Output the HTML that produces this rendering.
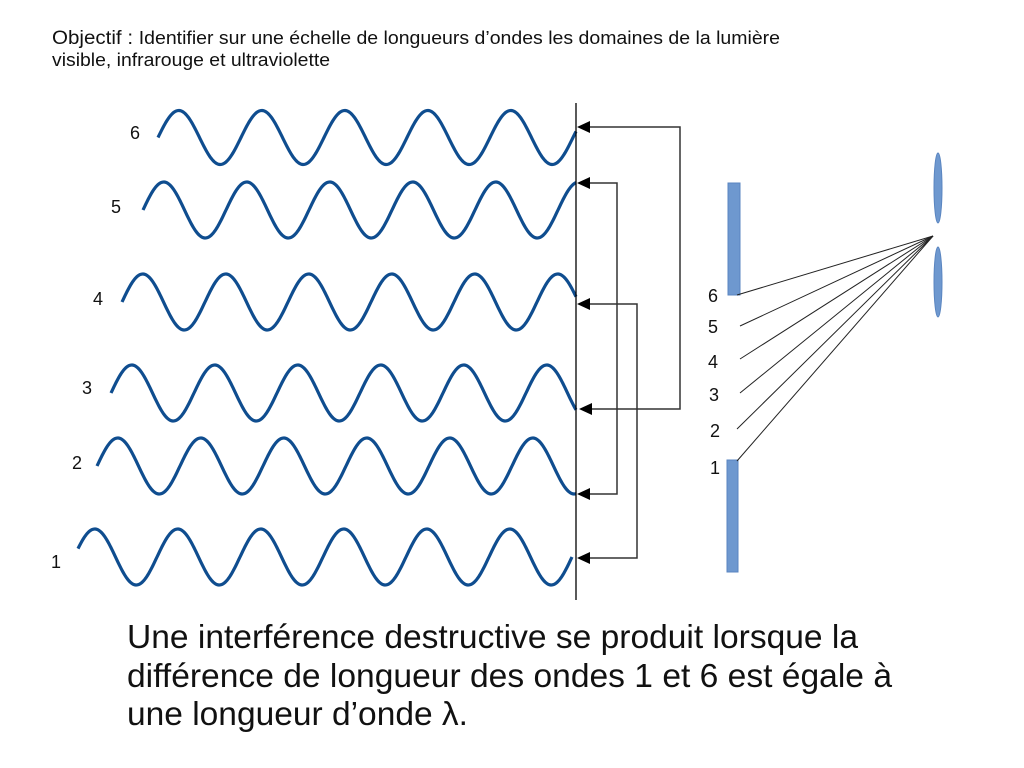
<!DOCTYPE html>
<html><head><meta charset="utf-8"><style>
html,body{margin:0;padding:0;background:#fff;}
svg{display:block;}
text{font-family:"Liberation Sans",sans-serif;fill:#111;}
</style></head><body>
<svg id="s" width="1024" height="768" viewBox="0 0 1024 768" xmlns="http://www.w3.org/2000/svg">
<text x="52" y="44" font-size="19.5" textLength="728" lengthAdjust="spacingAndGlyphs">Objectif : <tspan font-size="18.5">Identifier sur une échelle de longueurs d’ondes les domaines de la lumière</tspan></text>
<text x="52" y="66" font-size="18.5" textLength="278" lengthAdjust="spacingAndGlyphs">visible, infrarouge et ultraviolette</text>
<g id="waves" fill="none" stroke="#0f4d8f" stroke-width="3.2"></g>
<g font-size="18">
<text x="130" y="139">6</text><text x="111" y="213">5</text><text x="93" y="305">4</text>
<text x="82" y="394">3</text><text x="72" y="469">2</text><text x="51" y="568">1</text>
</g>
<line x1="576" y1="103" x2="576" y2="600" stroke="#000" stroke-width="1.3"/>
<g fill="none" stroke="#333" stroke-width="1.5">
<polyline points="588,127 680,127 680,409 590,409"/>
<polyline points="588,183 617,183 617,494 588,494"/>
<polyline points="588,304 637,304 637,558 588,558"/>
</g>
<g fill="#000">
<path d="M577,127 L590,121 L590,133z"/><path d="M579,409 L592,403 L592,415z"/>
<path d="M577,183 L590,177 L590,189z"/><path d="M577,494 L590,488 L590,500z"/>
<path d="M577,304 L590,298 L590,310z"/><path d="M577,558 L590,552 L590,564z"/>
</g>
<rect x="728" y="183" width="12" height="112" fill="#6e98cf" stroke="#5a85c0"/>
<rect x="727" y="460" width="11" height="112" fill="#6e98cf" stroke="#5a85c0"/>
<ellipse cx="938" cy="188" rx="4" ry="35" fill="#6e98cf" stroke="#5a85c0"/>
<ellipse cx="938" cy="282" rx="4" ry="35" fill="#6e98cf" stroke="#5a85c0"/>
<g stroke="#222" stroke-width="1">
<line x1="737" y1="295" x2="933" y2="236"/><line x1="740" y1="326" x2="933" y2="236"/>
<line x1="740" y1="359" x2="933" y2="236"/><line x1="740" y1="393" x2="933" y2="236"/>
<line x1="737" y1="429" x2="933" y2="236"/><line x1="737" y1="461" x2="933" y2="236"/>
</g>
<g font-size="18">
<text x="708" y="302">6</text><text x="708" y="333">5</text><text x="708" y="368">4</text>
<text x="709" y="401">3</text><text x="710" y="437">2</text><text x="710" y="474">1</text>
</g>
<g font-size="33">
<text x="127" y="648" textLength="731" lengthAdjust="spacingAndGlyphs">Une interférence destructive se produit lorsque la</text>
<text x="127" y="687" textLength="765" lengthAdjust="spacingAndGlyphs">différence de longueur des ondes 1 et 6 est égale à</text>
<text x="127" y="725" textLength="341" lengthAdjust="spacingAndGlyphs">une longueur d’onde λ.</text>
</g>
</svg>
<script>
var W=[[158,137.5,27,576],[143,210,28,576],[122,302,28,576],[111,393,28,576],[97,466,28,576],[78,557,28,572]];
var P=83,g=document.getElementById('waves');
W.forEach(function(w){var x0=w[0],d='';var s=(w===W[5])?74:x0;
for(var x=x0;x<=w[3];x+=1){var y=w[1]-w[2]*Math.sin(2*Math.PI*(x-s)/P);d+=(x==x0?'M':'L')+x+','+y.toFixed(2);}
var p=document.createElementNS('http://www.w3.org/2000/svg','path');p.setAttribute('d',d);g.appendChild(p);});
</script>
</body></html>
